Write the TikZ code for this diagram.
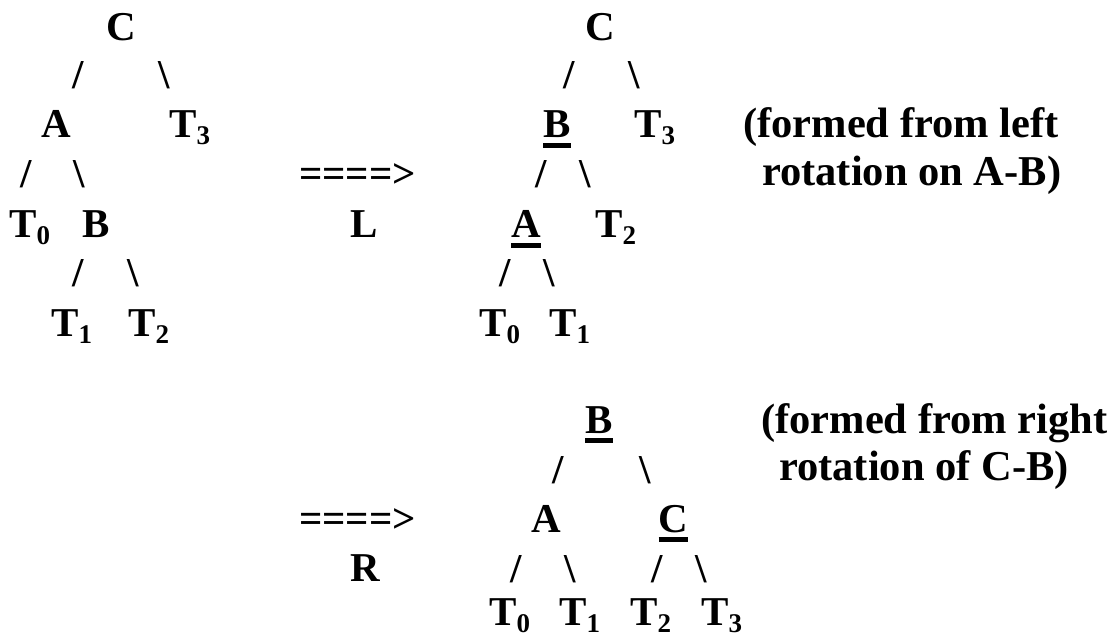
\documentclass[tikz,border=0pt]{standalone}
\usepackage{fontspec}
\setmainfont{Liberation Serif}
\newcommand\lo[1]{\raisebox{-7pt}{\fontsize{27}{27}\selectfont #1}}
\newcommand\ul[1]{\sbox0{#1}\rlap{\rule[-10pt]{\wd0}{5pt}}\usebox0}
\tikzset{
  lbl/.style={font=\fontsize{41}{49}\selectfont\bfseries, inner sep=0pt, anchor=base},
  lblw/.style={lbl, anchor=base west},
  note/.style={lblw, font=\fontsize{42.5}{49}\selectfont\bfseries}
}
\begin{document}
\begin{tikzpicture}[x=1pt,y=-1pt]
  \useasboundingbox (0,0) rectangle (1119,636);
  % original tree
  \node[lbl]  (Cl)  at (121,41)  {C};
  \node[lbl]  (sl1) at (78,89)   {/};
  \node[lbl]  (sl2) at (164,89)  {\textbackslash};
  \node[lbl]  (Al)  at (56,138)  {A};
  \node[lblw] (T3l) at (169,138) {T\lo{3}};
  \node[lbl]  (sl3) at (26,188)  {/};
  \node[lbl]  (sl4) at (79,188)  {\textbackslash};
  \node[lblw] (T0l) at (9,238)   {T\lo{0}};
  \node[lbl]  (Bl)  at (96,238)  {B};
  \node[lbl]  (sl5) at (78,287)  {/};
  \node[lbl]  (sl6) at (133,287) {\textbackslash};
  \node[lblw] (T1l) at (51,336)  {T\lo{1}};
  \node[lblw] (T2l) at (128,336) {T\lo{2}};
  % left rotation
  \node[lbl]  (arL) at (357.5,188) {====>};
  \node[lbl]  (L)   at (364,238) {L};
  \node[lbl]  (Cm)  at (600,41)  {C};
  \node[lbl]  (sm1) at (569.5,89) {/};
  \node[lbl]  (sm2) at (634,89)  {\textbackslash};
  \node[lbl]  (Bm)  at (557,138) {\ul{B}};
  \node[lblw] (T3m) at (634,138) {T\lo{3}};
  \node[lbl]  (sm3) at (541.5,188) {/};
  \node[lbl]  (sm4) at (585,188) {\textbackslash};
  \node[lbl]  (Am)  at (526,238) {\ul{A}};
  \node[lblw] (T2m) at (595,238) {T\lo{2}};
  \node[lbl]  (sm5) at (505,287) {/};
  \node[lbl]  (sm6) at (549,287) {\textbackslash};
  \node[lblw] (T0m) at (479,336) {T\lo{0}};
  \node[lblw] (T1m) at (549,336) {T\lo{1}};
  \node[note] (nL1) at (743,138) {(formed from left};
  \node[note] (nL2) at (762,186) {rotation on A-B)};
  % right rotation
  \node[lbl]  (arR) at (357.5,532) {====>};
  \node[lbl]  (R)   at (365,581) {R};
  \node[lbl]  (Bb)  at (599,433) {\ul{B}};
  \node[lbl]  (sb1) at (558.5,483) {/};
  \node[lbl]  (sb2) at (645,483) {\textbackslash};
  \node[lbl]  (Ab)  at (546,532) {A};
  \node[lbl]  (Cb)  at (673.5,532) {\ul{C}};
  \node[lbl]  (sb3) at (516,582) {/};
  \node[lbl]  (sb4) at (570.5,582) {\textbackslash};
  \node[lbl]  (sb5) at (657.5,582) {/};
  \node[lbl]  (sb6) at (701.5,582) {\textbackslash};
  \node[lblw] (T0b) at (489,625) {T\lo{0}};
  \node[lblw] (T1b) at (559,625) {T\lo{1}};
  \node[lblw] (T2b) at (630,625) {T\lo{2}};
  \node[lblw] (T3b) at (701,625) {T\lo{3}};
  \node[note] (nR1) at (761,433) {(formed from right};
  \node[note] (nR2) at (779,480) {rotation of C-B)};
\end{tikzpicture}
\end{document}
